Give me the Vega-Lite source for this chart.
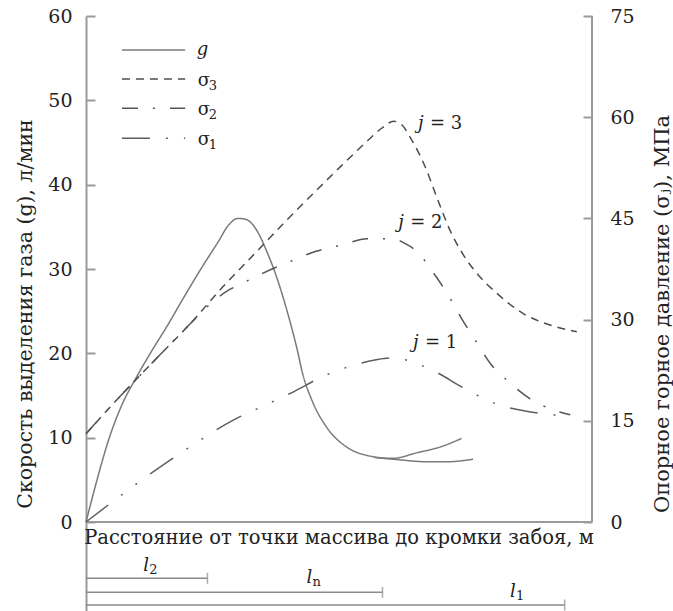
{
  "$schema": "https://vega.github.io/schema/vega-lite/v6.json",
  "width": 506,
  "height": 595,
  "autosize": {"type": "none"},
  "padding": {"left": 86, "top": 16, "right": 81, "bottom": 0},
  "background": "white",
  "config": {
    "view": {"stroke": null},
    "font": "DejaVu Serif",
    "text": {"font": "DejaVu Serif", "fontSize": 18, "color": "#222"}
  },
  "datasets": {
    "gas": [
      {"s": "g", "x": 0, "y": 0}, {"s": "g", "x": 2.0, "y": 4.6}, {"s": "g", "x": 4.5, "y": 9.8},
      {"s": "g", "x": 7.1, "y": 13.9}, {"s": "g", "x": 9.9, "y": 17.1}, {"s": "g", "x": 12.8, "y": 20.1},
      {"s": "g", "x": 16.1, "y": 23.3}, {"s": "g", "x": 19.1, "y": 26.4}, {"s": "g", "x": 22.7, "y": 30.0},
      {"s": "g", "x": 26.0, "y": 33.1}, {"s": "g", "x": 28.3, "y": 35.3}, {"s": "g", "x": 30.0, "y": 36.0},
      {"s": "g", "x": 31.5, "y": 35.9}, {"s": "g", "x": 32.9, "y": 35.3}, {"s": "g", "x": 34.2, "y": 34.1},
      {"s": "g", "x": 35.5, "y": 32.4}, {"s": "g", "x": 37.7, "y": 29.0}, {"s": "g", "x": 39.7, "y": 25.1},
      {"s": "g", "x": 41.6, "y": 20.8}, {"s": "g", "x": 42.9, "y": 17.4}, {"s": "g", "x": 44.6, "y": 14.5},
      {"s": "g", "x": 47.6, "y": 11.2}, {"s": "g", "x": 51.5, "y": 8.9}, {"s": "g", "x": 55.5, "y": 7.9},
      {"s": "g", "x": 60.7, "y": 7.55}, {"s": "g", "x": 65.3, "y": 8.2}, {"s": "g", "x": 70.0, "y": 8.9},
      {"s": "g", "x": 74.2, "y": 9.9},
      {"s": "g2", "x": 57.0, "y": 7.65}, {"s": "g2", "x": 61.5, "y": 7.4}, {"s": "g2", "x": 67.3, "y": 7.15},
      {"s": "g2", "x": 71.5, "y": 7.15}, {"s": "g2", "x": 76.5, "y": 7.45}
    ],
    "stress": [
      {"s": "s3", "x": 0, "v": 13.1}, {"s": "s3", "x": 6.7, "v": 18.6}, {"s": "s3", "x": 14.0, "v": 24.3},
      {"s": "s3", "x": 20.6, "v": 29.4}, {"s": "s3", "x": 27.1, "v": 34.9}, {"s": "s3", "x": 34.4, "v": 40.6},
      {"s": "s3", "x": 40.0, "v": 45.0}, {"s": "s3", "x": 45.6, "v": 49.2}, {"s": "s3", "x": 50.2, "v": 52.6},
      {"s": "s3", "x": 55.5, "v": 56.4}, {"s": "s3", "x": 58.5, "v": 58.4}, {"s": "s3", "x": 60.8, "v": 59.4},
      {"s": "s3", "x": 62.5, "v": 58.8}, {"s": "s3", "x": 64.0, "v": 57.1}, {"s": "s3", "x": 67.0, "v": 52.7},
      {"s": "s3", "x": 69.3, "v": 48.2}, {"s": "s3", "x": 71.9, "v": 43.3}, {"s": "s3", "x": 74.4, "v": 39.8},
      {"s": "s3", "x": 77.2, "v": 36.9}, {"s": "s3", "x": 81.2, "v": 33.9}, {"s": "s3", "x": 86.4, "v": 30.9},
      {"s": "s3", "x": 91.7, "v": 29.2}, {"s": "s3", "x": 97.0, "v": 28.2},
      {"s": "s2", "x": 0, "v": 13.1}, {"s": "s2", "x": 6.7, "v": 18.6}, {"s": "s2", "x": 14.0, "v": 24.3},
      {"s": "s2", "x": 20.6, "v": 29.4}, {"s": "s2", "x": 25.0, "v": 32.6}, {"s": "s2", "x": 28.0, "v": 34.3},
      {"s": "s2", "x": 30.4, "v": 35.2}, {"s": "s2", "x": 35.0, "v": 36.9}, {"s": "s2", "x": 40.3, "v": 38.6},
      {"s": "s2", "x": 45.3, "v": 40.1}, {"s": "s2", "x": 50.8, "v": 41.1}, {"s": "s2", "x": 55.5, "v": 42.0},
      {"s": "s2", "x": 60.7, "v": 42.0}, {"s": "s2", "x": 63.0, "v": 41.3}, {"s": "s2", "x": 65.4, "v": 40.1},
      {"s": "s2", "x": 68.6, "v": 37.0}, {"s": "s2", "x": 71.6, "v": 33.6}, {"s": "s2", "x": 74.2, "v": 30.2},
      {"s": "s2", "x": 76.9, "v": 27.0}, {"s": "s2", "x": 79.8, "v": 23.6}, {"s": "s2", "x": 83.5, "v": 20.8},
      {"s": "s2", "x": 87.7, "v": 18.3}, {"s": "s2", "x": 92.4, "v": 16.6}, {"s": "s2", "x": 95.7, "v": 15.9},
      {"s": "s1", "x": 0, "v": 0}, {"s": "s1", "x": 4.0, "v": 2.3}, {"s": "s1", "x": 7.4, "v": 4.2},
      {"s": "s1", "x": 10.5, "v": 5.95}, {"s": "s1", "x": 15.9, "v": 8.8}, {"s": "s1", "x": 21.7, "v": 11.7},
      {"s": "s1", "x": 25.2, "v": 13.4}, {"s": "s1", "x": 29.1, "v": 15.1}, {"s": "s1", "x": 33.6, "v": 16.7},
      {"s": "s1", "x": 41.0, "v": 19.3}, {"s": "s1", "x": 46.9, "v": 21.6}, {"s": "s1", "x": 53.2, "v": 23.3},
      {"s": "s1", "x": 57.1, "v": 24.0}, {"s": "s1", "x": 60.0, "v": 24.3}, {"s": "s1", "x": 63.4, "v": 24.0},
      {"s": "s1", "x": 66.0, "v": 23.3}, {"s": "s1", "x": 70.0, "v": 21.9}, {"s": "s1", "x": 73.6, "v": 20.3},
      {"s": "s1", "x": 79.2, "v": 18.1}, {"s": "s1", "x": 81.8, "v": 17.3}, {"s": "s1", "x": 85.8, "v": 16.6},
      {"s": "s1", "x": 89.7, "v": 16.1}, {"s": "s1", "x": 95.7, "v": 15.7}
    ],
    "key": [
      {"s": "g", "x": 7.1, "x2": 19.6, "y": 55.97},
      {"s": "s3", "x": 7.1, "x2": 19.6, "y": 52.53},
      {"s": "s2", "x": 7.1, "x2": 19.6, "y": 49.06},
      {"s": "s1", "x": 7.1, "x2": 19.6, "y": 45.5}
    ],
    "spans": [
      {"name": "l2", "x": 0, "x2": 24.0, "y": -6.68},
      {"name": "ln", "x": 0, "x2": 58.6, "y": -8.34},
      {"name": "l1", "x": 0, "x2": 94.6, "y": -9.84}
    ],
    "italic": [
      {"t": "g", "x": 21.9, "y": 55.38},
      {"t": "j", "x": 65.6, "y": 46.57},
      {"t": "j", "x": 61.7, "y": 34.83},
      {"t": "j", "x": 64.6, "y": 20.6},
      {"t": "l", "x": 11.3, "y": -5.81},
      {"t": "l", "x": 43.6, "y": -7.27},
      {"t": "l", "x": 83.8, "y": -8.85}
    ],
    "eq": [
      {"t": "= 3", "x": 65.6, "y": 46.57},
      {"t": "= 2", "x": 61.7, "y": 34.83},
      {"t": "= 1", "x": 64.6, "y": 20.6}
    ],
    "sigma": [
      {"t": "σ", "sub": "3", "x": 22.1, "y": 51.74},
      {"t": "σ", "sub": "2", "x": 22.1, "y": 48.26},
      {"t": "σ", "sub": "1", "x": 22.1, "y": 44.7}
    ],
    "lsub": [
      {"sub": "2", "x": 11.3, "y": -5.81},
      {"sub": "n", "x": 43.6, "y": -7.27},
      {"sub": "1", "x": 83.8, "y": -8.85}
    ]
  },
  "layer": [
    {
      "encoding": {
        "x": {"field": "x", "type": "quantitative", "scale": {"domain": [0, 100], "nice": false, "zero": false}, "axis": null},
        "y": {
          "field": "y", "type": "quantitative",
          "scale": {"domain": [-10.55, 60], "nice": false, "zero": false},
          "axis": {
            "orient": "left", "values": [0, 10, 20, 30, 40, 50, 60], "grid": false,
            "title": "Скорость выделения газа (g), л/мин",
            "titleFont": "DejaVu Serif", "titleFontSize": 20.5, "titleFontWeight": "normal", "titleColor": "#222",
            "titlePadding": 12,
            "labelFont": "DejaVu Serif", "labelFontSize": 19, "labelColor": "#222", "labelPadding": 23,
            "tickSize": -9, "tickWidth": 2, "tickColor": "#9a9a9a",
            "domainColor": "#9a9a9a", "domainWidth": 2
          }
        }
      },
      "layer": [
        {"data": {"name": "gas"}, "mark": {"type": "line", "interpolate": "monotone"},
         "encoding": {
           "detail": {"field": "s"},
           "strokeDash": {"field": "s", "type": "nominal", "legend": null,
             "scale": {"domain": ["g", "g2", "s3", "s2", "s1"], "range": [[1, 0], [1, 0], [8, 6], [16, 15, 2, 15], [28, 16, 2, 16, 2, 16]]}},
           "color": {"field": "s", "type": "nominal", "legend": null,
             "scale": {"domain": ["g", "g2", "s3", "s2", "s1"], "range": ["#7a7a7a", "#7a7a7a", "#4d4d4d", "#555555", "#5e5e5e"]}},
           "strokeWidth": {"field": "s", "type": "nominal", "legend": null,
             "scale": {"domain": ["g", "g2", "s3", "s2", "s1"], "range": [1.5, 1.5, 3.2, 2.7, 2.3]}}
         }},
        {"data": {"name": "key"}, "mark": {"type": "rule"},
         "encoding": {
           "x2": {"field": "x2"},
           "strokeDash": {"field": "s", "type": "nominal", "legend": null},
           "color": {"field": "s", "type": "nominal", "legend": null},
           "strokeWidth": {"field": "s", "type": "nominal", "legend": null}
         }},
        {"data": {"values": [{"x": 0, "x2": 100, "y": 0}]}, "mark": {"type": "rule", "color": "#9a9a9a", "strokeWidth": 2},
         "encoding": {"x2": {"field": "x2"}}},
        {"data": {"values": [{"x": 100, "y": 0, "y2": 60}]}, "mark": {"type": "rule", "color": "#9a9a9a", "strokeWidth": 2},
         "encoding": {"y2": {"field": "y2"}}},
        {"data": {"name": "spans"}, "mark": {"type": "rule", "color": "#8a8a8a", "strokeWidth": 1.5},
         "encoding": {"x2": {"field": "x2"}}},
        {"data": {"name": "spans"}, "mark": {"type": "tick", "orient": "vertical", "color": "#8a8a8a", "size": 11, "thickness": 1.5},
         "encoding": {"x": {"field": "x2", "type": "quantitative"}}},
        {"data": {"values": [{"t": "Расстояние от точки массива до кромки забоя, м", "x": 50, "y": -2.61}]},
         "mark": {"type": "text", "align": "center", "baseline": "alphabetic", "fontSize": 19.5},
         "encoding": {"text": {"field": "t"}}},
        {"data": {"name": "italic"}, "mark": {"type": "text", "align": "left", "baseline": "alphabetic", "fontStyle": "italic"},
         "encoding": {"text": {"field": "t"}}},
        {"data": {"name": "eq"}, "mark": {"type": "text", "align": "left", "baseline": "alphabetic", "dx": 12},
         "encoding": {"text": {"field": "t"}}},
        {"data": {"name": "sigma"}, "mark": {"type": "text", "align": "left", "baseline": "alphabetic"},
         "encoding": {"text": {"field": "t"}}},
        {"data": {"name": "sigma"}, "mark": {"type": "text", "align": "left", "baseline": "alphabetic", "dx": 11, "dy": 4, "fontSize": 13},
         "encoding": {"text": {"field": "sub"}}},
        {"data": {"name": "lsub"}, "mark": {"type": "text", "align": "left", "baseline": "alphabetic", "dx": 6, "dy": 3, "fontSize": 13},
         "encoding": {"text": {"field": "sub"}}}
      ]
    },
    {
      "data": {"name": "stress"},
      "mark": {"type": "line", "interpolate": "monotone"},
      "encoding": {
        "x": {"field": "x", "type": "quantitative"},
        "y": {
          "field": "v", "type": "quantitative",
          "scale": {"domain": [-13.1875, 75], "nice": false, "zero": false},
          "axis": {
            "orient": "right", "values": [0, 15, 30, 45, 60, 75], "grid": false, "domain": false,
            "title": "Опорное горное давление (σⱼ), МПа", "titleAngle": 270,
            "titleFont": "DejaVu Serif", "titleFontSize": 21, "titleFontWeight": "normal", "titleColor": "#222",
            "titlePadding": 38,
            "labelFont": "DejaVu Serif", "labelFontSize": 19, "labelColor": "#222", "labelPadding": 27,
            "tickSize": -9, "tickWidth": 2, "tickColor": "#9a9a9a"
          }
        },
        "detail": {"field": "s"},
        "strokeDash": {"field": "s", "type": "nominal", "legend": null},
        "color": {"field": "s", "type": "nominal", "legend": null},
        "strokeWidth": {"field": "s", "type": "nominal", "legend": null}
      }
    }
  ],
  "resolve": {"scale": {"y": "independent"}}
}
